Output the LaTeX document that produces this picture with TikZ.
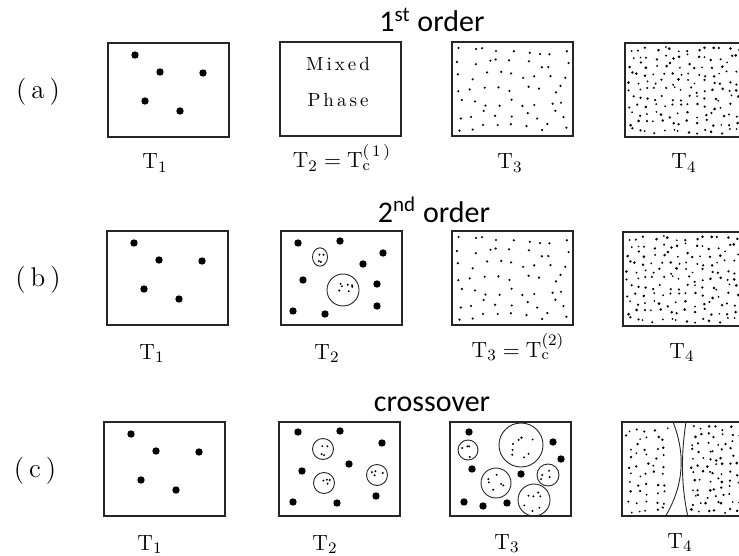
\documentclass[tikz,border=0pt]{standalone}
\usepackage{fontspec}
\newfontfamily\headfont{Carlito}
\usetikzlibrary{positioning}
\tikzset{
  panel/.style={rectangle,draw=black!85,line width=0.6pt,minimum width=60.5pt,minimum height=47pt,inner sep=0pt,outer sep=0pt,anchor=north west},
  head/.style={font=\headfont\fontsize{15}{18}\selectfont,anchor=base,inner sep=0pt},
  tlab/.style={font=\fontsize{11}{13}\selectfont,anchor=base,inner sep=0pt},
  rowlab/.style={font=\fontsize{13.5}{15}\selectfont,anchor=base,inner sep=0pt},
  mixlab/.style={font=\fontsize{9.5}{11}\selectfont,anchor=base,inner sep=0pt},
  bub/.style={draw=black!85,line width=0.45pt},
}
\newcommand\ls{\kern1.5pt}
% five heavy particles (T1)
\newcommand\heavyfive{%
  \foreach \px/\py in {27/12,52/29,95/30,37/58,72/68} \fill (\px,\py) circle (1.85pt);}
% sparse light gas
\newcommand\gasfill{%
  \pgfmathsetseed{31}%
  \foreach \i in {0,...,8}{\foreach \j in {0,...,6}{
    \fill ({8+13.1*\i+9*rnd-4.5},{8+13*\j+9*rnd-4.5}) circle (0.6pt);}}}
% dense light gas
\newcommand\densefill{%
  \pgfmathsetseed{77}%
  \foreach \i in {0,...,13}{\foreach \j in {0,...,10}{
    \fill ({6+8.2*\i+6*rnd-3},{6+8.2*\j+6*rnd-3}) circle [radius=0.45pt+0.3pt*rnd];}}}
% small dots inside a bubble: centre x, centre y, radius, count
\newcommand\speckle[4]{%
  \foreach \k in {1,...,#4}{%
    \pgfmathsetmacro\ang{360*rnd}\pgfmathsetmacro\rad{#3*(0.2+0.55*rnd)}%
    \fill ({#1+\rad*cos(\ang)},{#2+\rad*sin(\ang)}) circle (0.55pt);}}

\begin{document}
\begin{tikzpicture}[x=0.5pt,y=-0.5pt]
  \useasboundingbox (0,0) rectangle (739,556);
  \clip (0,0) rectangle (739,556);
  \pgfmathsetseed{5}
  % headings
  \node[head] (h1) at (432,32) {1\textsuperscript{st} order};
  \node[head] (h2) at (434,222) {2\textsuperscript{nd} order};
  \node[head] (h3) at (432,411) {crossover};
  \node[rowlab] (ra) at (38,98) {(\kern2.5pt a\kern2.5pt)};
  \node[rowlab] (rb) at (38,286) {(\kern2.5pt b\kern2.5pt)};
  \node[rowlab] (rc) at (35,477) {(\kern2.5pt c\kern2.5pt)};

  % row (a): first order
  \node[panel] (a1) at (108,43) {};
  \node[panel] (a2) at (280,42) {};
  \node[panel] (a3) at (452,42) {};
  \node[panel] (a4) at (625,43) {};
  \node[mixlab] (mx) at (338,71) {M\ls i\ls x\ls e\ls d};
  \node[mixlab] (ph) at (338,107) {P\ls h\ls a\ls s\ls e};
  \begin{scope}[shift={(a1.north west)}] \heavyfive \end{scope}
  \begin{scope}[shift={(a3.north west)}] \gasfill \end{scope}
  \begin{scope}[shift={(a4.north west)}] \densefill \end{scope}
  \node[tlab] (ta1) at (155,169) {$\mathrm{T}_1$};
  \node[tlab] (ta2) at (342,168) {$\mathrm{T}_2 = \mathrm{T}_\mathrm{c}^{(\,1\,)}$};
  \node[tlab] (ta3) at (510,169) {$\mathrm{T}_3$};
  \node[tlab] (ta4) at (684,169) {$\mathrm{T}_4$};

  % row (b): second order
  \node[panel] (b1) at (107,231) {};
  \node[panel] (b2) at (281,231) {};
  \node[panel] (b3) at (452,231) {};
  \node[panel] (b4) at (623,232) {};
  \begin{scope}[shift={(b1.north west)}] \heavyfive \end{scope}
  \begin{scope}[shift={(b2.north west)}]
    \foreach \px/\py in {17/12,59/10,102/22,82/33,22/49,96/53,12/80,44/83,96/75}
      \fill (\px,\py) circle (1.85pt);
    \draw[bub] (39,26) ellipse [x radius=3.75pt,y radius=4.6pt];
    \draw[bub] (62,59) circle (8pt);
    \speckle{39}{26}{8}{4}
    \speckle{62}{59}{16}{7}
  \end{scope}
  \begin{scope}[shift={(b3.north west)}] \gasfill \end{scope}
  \begin{scope}[shift={(b4.north west)}] \densefill \end{scope}
  \node[tlab] (tb1) at (152,359) {$\mathrm{T}_1$};
  \node[tlab] (tb2) at (327,359) {$\mathrm{T}_2$};
  \node[tlab] (tb3) at (518,357) {$\mathrm{T}_3 = \mathrm{T}_\mathrm{c}^{(2)}$};
  \node[tlab] (tb4) at (682,358) {$\mathrm{T}_4$};

  % row (c): crossover
  \node[panel] (c1) at (104,422) {};
  \node[panel] (c2) at (279,422) {};
  \node[panel] (c3) at (450,422) {};
  \node[panel] (c4) at (622,422) {};
  \begin{scope}[shift={(c1.north west)}] \heavyfive \end{scope}
  \begin{scope}[shift={(c2.north west)}]
    \foreach \px/\py in {19/10,61/9,103/21,70/42,23/49,14/80,58/81,97/74}
      \fill (\px,\py) circle (1.85pt);
    \foreach \cx/\cy in {44/27,45/61,98/53}{
      \draw[bub] (\cx,\cy) circle (5.25pt);
      \speckle{\cx}{\cy}{10}{4}}
  \end{scope}
  \begin{scope}[shift={(c3.north west)}]
    \foreach \px/\py in {19/10,103/20,111/37,22/47,71/52,14/80,33/84,57/81}
      \fill (\px,\py) circle (1.85pt);
    \foreach \cx/\cy/\r/\n in {18/28/10/4,71/23/22/9,46/61/15/6,98/53/11/4,84/78/16/7}{
      \draw[bub] (\cx,\cy) circle ({\r/2*1pt});
      \speckle{\cx}{\cy}{\r}{\n}}
  \end{scope}
  \begin{scope}[shift={(c4.north west)}]
    \draw[bub] (51,0) .. controls (63,30) and (63,62) .. (43,95);
    \draw[bub] (64,0) .. controls (59,32) and (59,64) .. (66,95);
    \pgfmathsetseed{12}
    \foreach \i in {0,...,4}{\foreach \j in {0,...,9}{
      \fill ({7+9*\i+6*rnd-3},{7+9*\j+6*rnd-3}) circle [radius=0.45pt+0.25pt*rnd];}}
    \foreach \i in {0,...,6}{\foreach \j in {0,...,11}{
      \fill ({71+7.5*\i+6*rnd-3},{6+7.5*\j+5*rnd-2.5}) circle [radius=0.45pt+0.3pt*rnd];}}
  \end{scope}
  \node[tlab] (tc1) at (150,550) {$\mathrm{T}_1$};
  \node[tlab] (tc2) at (325,550) {$\mathrm{T}_2$};
  \node[tlab] (tc3) at (507,549) {$\mathrm{T}_3$};
  \node[tlab] (tc4) at (680,548) {$\mathrm{T}_4$};
\end{tikzpicture}
\end{document}
